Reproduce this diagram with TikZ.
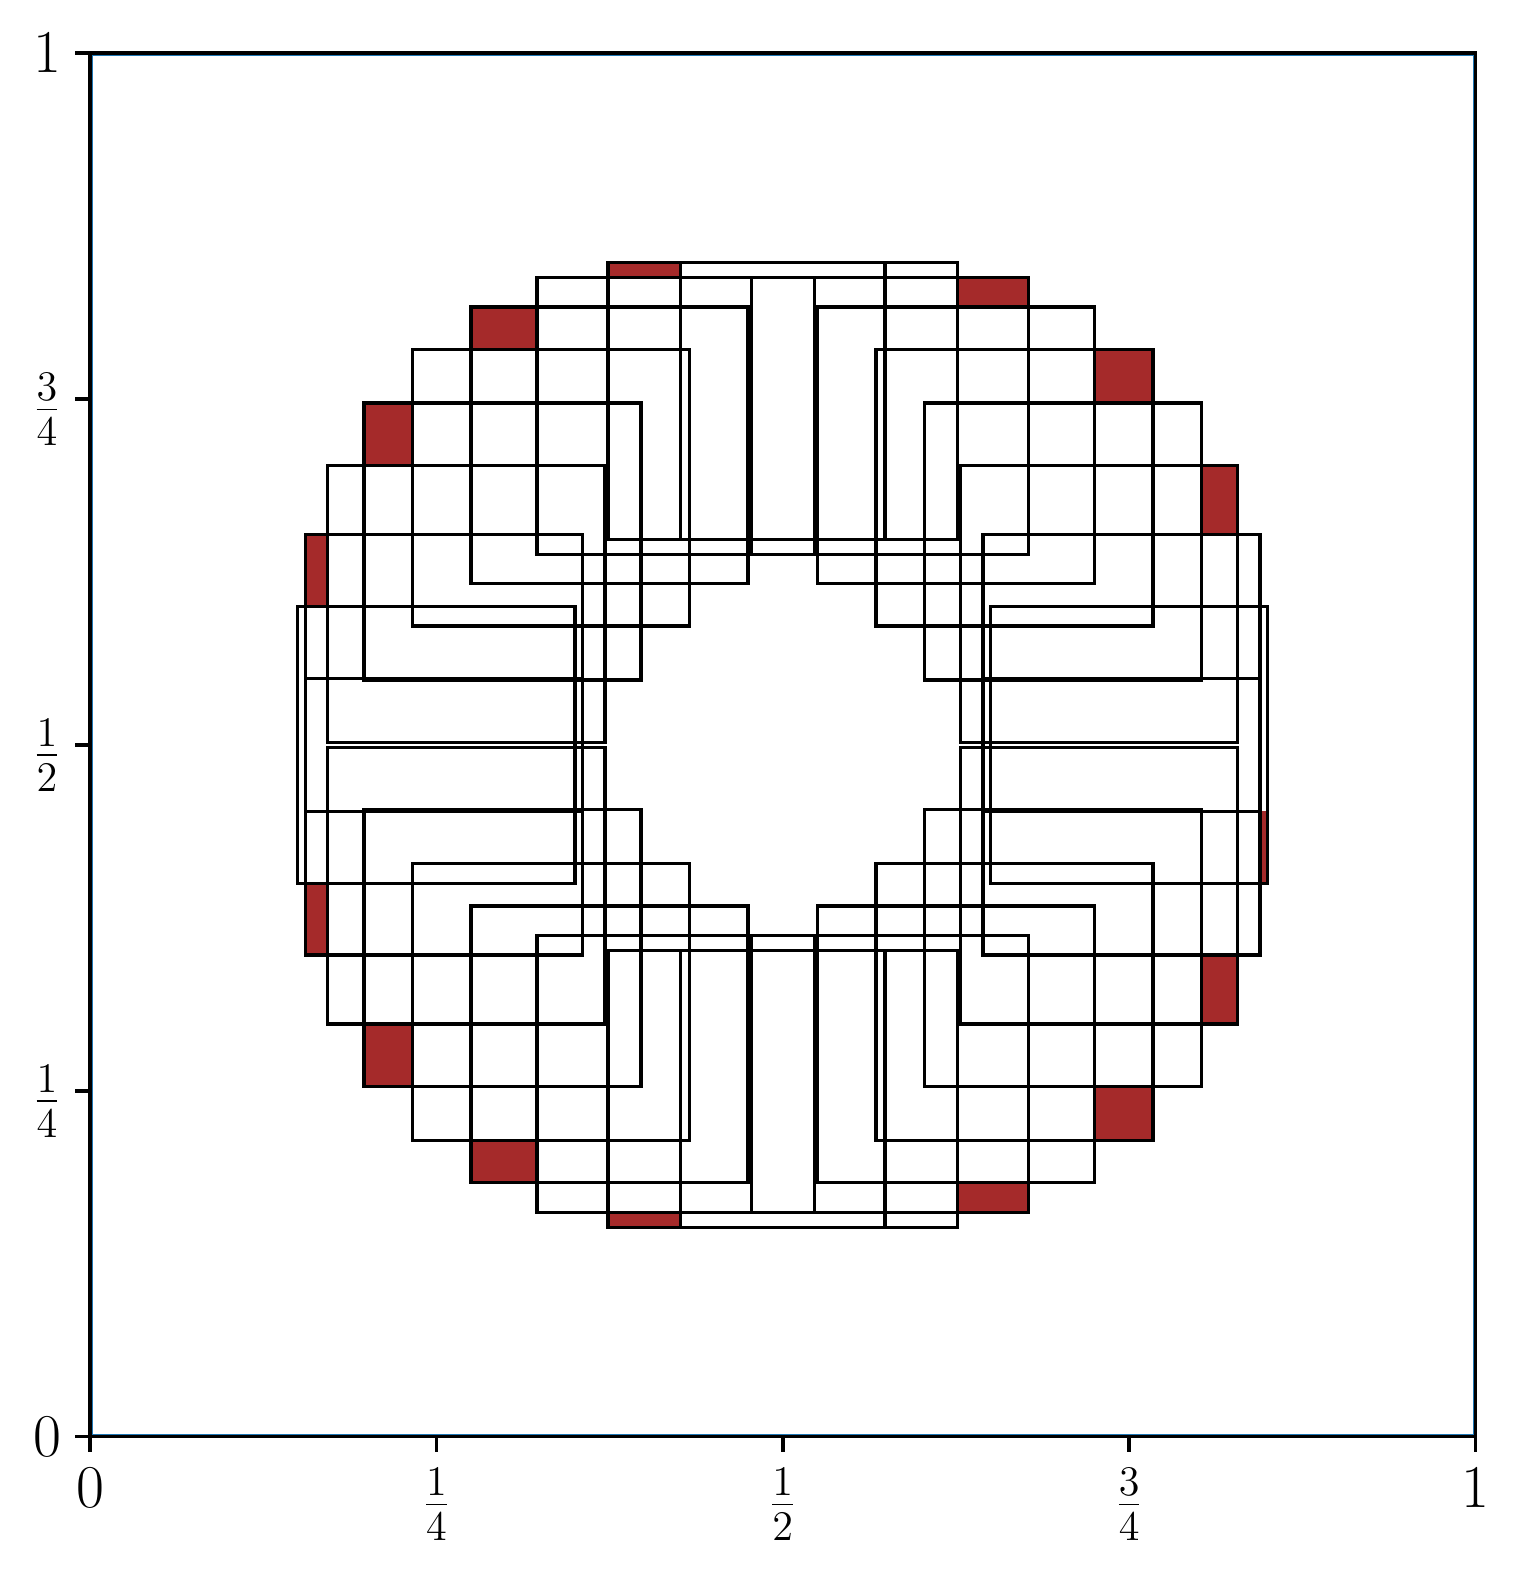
\documentclass[tikz,border=0pt]{standalone}
\definecolor{redfill}{HTML}{A52A2A}
\definecolor{bluec}{HTML}{1F77B4}
\begin{document}
\begin{tikzpicture}[x=13.855cm,y=13.837cm,
  sq/.style={draw=black,line width=0.95pt,line join=miter},
  spine/.style={draw=black,line width=1.0pt},
  tickline/.style={draw=black,line width=1.0pt},
  lab/.style={inner sep=0pt,font=\fontsize{18}{21}\selectfont}]
\useasboundingbox (-0.06496,-0.10429) rectangle (1.03212,1.03830);
% red cells (outer corners of every second square)
\foreach \k in {2,4,6}{
  \fill[redfill] ({0.6+0.25*cos(12*(\k+1))},{0.6+0.25*sin(12*(\k-1))}) rectangle ({0.6+0.25*cos(12*\k)},{0.6+0.25*sin(12*\k)});
}
\foreach \k in {8,10,12,14}{
  \fill[redfill] ({0.4+0.25*cos(12*\k)},{0.6+0.25*sin(12*(\k+1))}) rectangle ({0.4+0.25*cos(12*(\k-1))},{0.6+0.25*sin(12*\k)});
}
\foreach \k in {16,18,20,22}{
  \fill[redfill] ({0.4+0.25*cos(12*\k)},{0.4+0.25*sin(12*\k)}) rectangle ({0.4+0.25*cos(12*(\k+1))},{0.4+0.25*sin(12*(\k-1))});
}
\foreach \k in {24,26,28,30}{
  \fill[redfill] ({0.6+0.25*cos(12*(\k-1))},{0.4+0.25*sin(12*\k)}) rectangle ({0.6+0.25*cos(12*\k)},{0.4+0.25*sin(12*(\k+1))});
}
% squares
\foreach \k in {0,...,29}{
  \draw[sq] ({0.4+0.25*cos(12*\k)},{0.4+0.25*sin(12*\k)}) rectangle ++(0.2,0.2);
}
% frame
\draw[bluec,line width=0.35pt] (0.0016,0.0016) rectangle (0.9984,0.9984);
\draw[spine] (0,0) rectangle (1,1);
% ticks
\foreach \t in {0,0.25,0.5,0.75,1}{
  \draw[tickline] (\t,0) -- (\t,-0.01083);
  \draw[tickline] (0,\t) -- (-0.01083,\t);
}
% x labels
\node[lab,anchor=north] (x0) at (0,-0.0226) {$0$};
\node[lab,anchor=north] (x1) at (0.25,-0.0226) {$\frac{1}{4}$};
\node[lab,anchor=north] (x2) at (0.5,-0.0226) {$\frac{1}{2}$};
\node[lab,anchor=north] (x3) at (0.75,-0.0226) {$\frac{3}{4}$};
\node[lab,anchor=north] (x4) at (1,-0.0226) {$1$};
% y labels
\node[lab,anchor=base east] (y0) at (-0.0200,0) {\raisebox{-0.5\height}{$0$}};
\node[lab,anchor=base east] (y1) at (-0.0200,0.25) {\raisebox{-0.5\height}{$\frac{1}{4}$}};
\node[lab,anchor=base east] (y2) at (-0.0200,0.5) {\raisebox{-0.5\height}{$\frac{1}{2}$}};
\node[lab,anchor=base east] (y3) at (-0.0200,0.75) {\raisebox{-0.5\height}{$\frac{3}{4}$}};
\node[lab,anchor=base east] (y4) at (-0.0200,1) {\raisebox{-0.5\height}{$1$}};
\end{tikzpicture}
\end{document}
